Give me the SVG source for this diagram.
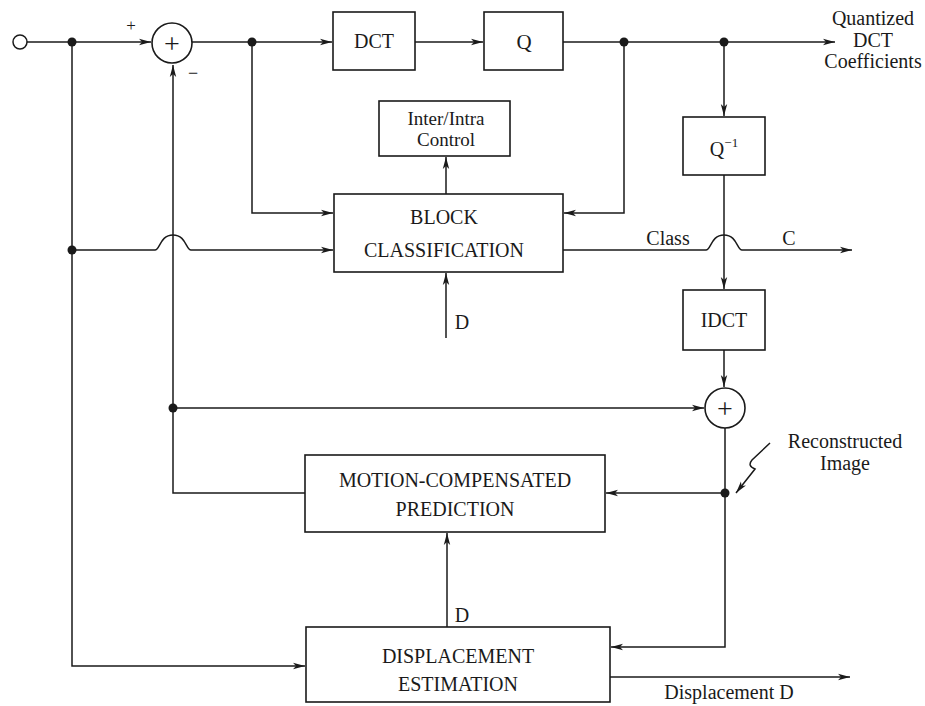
<svg xmlns="http://www.w3.org/2000/svg" width="925" height="706" viewBox="0 0 925 706">
<defs>
<style>
.box{fill:#fff;stroke:#1a1a1a;stroke-width:1.6}
.ln{fill:none;stroke:#1a1a1a;stroke-width:1.5}
.t{font-family:"Liberation Serif","Times New Roman",serif;fill:#1a1a1a;text-anchor:middle;font-size:20px}
.dot{fill:#1a1a1a}
</style>
<marker id="ah" viewBox="0 0 12 8" refX="12" refY="4" markerWidth="12" markerHeight="8" markerUnits="userSpaceOnUse" orient="auto">
<path d="M0,0.8 L12,4 L0,7.2 L3,4 Z" fill="#1a1a1a"/>
</marker>
</defs>
<rect width="925" height="706" fill="#fff"/>

<g id="connectors">
<path class="ln" d="M27,42 H151" marker-end="url(#ah)"/>
<path class="ln" d="M192,42 H332" marker-end="url(#ah)"/>
<path class="ln" d="M415,42 H483" marker-end="url(#ah)"/>
<path class="ln" d="M563,42 H835" marker-end="url(#ah)"/>
<path class="ln" d="M724,42 V116" marker-end="url(#ah)"/>
<path class="ln" d="M724,175 V289" marker-end="url(#ah)"/>
<path class="ln" d="M724,350 V387" marker-end="url(#ah)"/>
<path class="ln" d="M725,428 V647 H611" marker-end="url(#ah)"/>
<path class="ln" d="M725,493 H606" marker-end="url(#ah)"/>
<path class="ln" d="M305,493 H173 V65" marker-end="url(#ah)"/>
<path class="ln" d="M173,408 H704" marker-end="url(#ah)"/>
<path class="ln" d="M252,42 V213 H333" marker-end="url(#ah)"/>
<path class="ln" d="M624,42 V213 H564" marker-end="url(#ah)"/>
<path class="ln" d="M72,42 V666 H305" marker-end="url(#ah)"/>
<path class="ln" d="M72,250 H155 C160,250 160,235 173,235 C186,235 186,250 191,250 H333" marker-end="url(#ah)"/>
<path class="ln" d="M563,250 H706 C711,250 711,235 724,235 C737,235 737,250 742,250 H852" marker-end="url(#ah)"/>
<path class="ln" d="M446,194 V157" marker-end="url(#ah)"/>
<path class="ln" d="M446,338 V273" marker-end="url(#ah)"/>
<path class="ln" d="M447,627 V533" marker-end="url(#ah)"/>
<path class="ln" d="M610,677 H850" marker-end="url(#ah)"/>
<path class="ln" d="M770,443 L752,460 Q747,466 755,469 L736,493" marker-end="url(#ah)"/>
<circle class="dot" cx="72" cy="42" r="4.5"/>
<circle class="dot" cx="252" cy="42" r="4.5"/>
<circle class="dot" cx="624" cy="42" r="4.5"/>
<circle class="dot" cx="724" cy="42" r="4.5"/>
<circle class="dot" cx="72" cy="250" r="4.5"/>
<circle class="dot" cx="173" cy="408" r="4.5"/>
<circle class="dot" cx="725" cy="493" r="4.5"/>
</g>

<g id="input"><circle cx="20" cy="42" r="7" fill="#fff" stroke="#1a1a1a" stroke-width="1.5"/></g>

<g id="sum1">
<circle cx="172" cy="43" r="20" fill="#fff" stroke="#1a1a1a" stroke-width="1.6"/>
<text class="t" x="172" y="53" style="font-size:28px">+</text>
<text class="t" x="131" y="31" style="font-size:17px">+</text>
<text class="t" x="193" y="79" style="font-size:18px">−</text>
</g>

<g id="dct"><rect class="box" x="333" y="12" width="82" height="58"/><text class="t" x="374" y="48">DCT</text></g>
<g id="q"><rect class="box" x="484" y="12" width="79" height="58"/><text class="t" x="524" y="49" style="font-size:21px">Q</text></g>
<g id="out-label">
<text class="t" x="873" y="25">Quantized</text>
<text class="t" x="873" y="47">DCT</text>
<text class="t" x="873" y="68">Coefficients</text>
</g>

<g id="qinv"><rect class="box" x="683" y="117" width="82" height="58"/><text class="t" x="724" y="156">Q<tspan style="font-size:13px" dy="-9">−1</tspan></text></g>

<g id="interintra"><rect class="box" x="379" y="101" width="131" height="55"/>
<text class="t" x="446" y="125" style="font-size:19px">Inter/Intra</text>
<text class="t" x="446" y="146" style="font-size:19px">Control</text></g>

<g id="blockclass"><rect class="box" x="334" y="194" width="229" height="78"/>
<text class="t" x="444" y="224">BLOCK</text>
<text class="t" x="444" y="257">CLASSIFICATION</text></g>

<g id="labels">
<text class="t" x="668" y="245">Class</text>
<text class="t" x="789" y="245">C</text>
<text class="t" x="462" y="329">D</text>
<text class="t" x="462" y="622">D</text>
<text class="t" x="729" y="699">Displacement D</text>
<text class="t" x="845" y="448">Reconstructed</text>
<text class="t" x="845" y="470">Image</text>
</g>

<g id="idct"><rect class="box" x="683" y="290" width="82" height="60"/><text class="t" x="724" y="327">IDCT</text></g>

<g id="sum2"><circle cx="725" cy="408" r="20" fill="#fff" stroke="#1a1a1a" stroke-width="1.6"/><text class="t" x="725" y="418" style="font-size:28px">+</text></g>

<g id="mcp"><rect class="box" x="305" y="455" width="300" height="77"/>
<text class="t" x="455" y="487">MOTION-COMPENSATED</text>
<text class="t" x="455" y="516">PREDICTION</text></g>

<g id="de"><rect class="box" x="306" y="627" width="304" height="75"/>
<text class="t" x="458" y="663">DISPLACEMENT</text>
<text class="t" x="458" y="691">ESTIMATION</text></g>
</svg>
